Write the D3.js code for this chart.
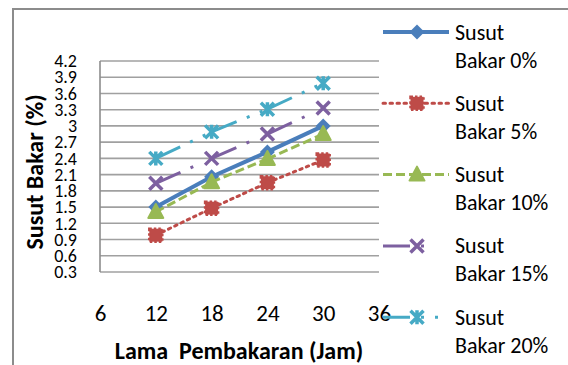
<!DOCTYPE html>
<html>
<head>
<meta charset="utf-8">
<script src="https://cdn.jsdelivr.net/npm/d3@7"></script>
<style>
  body { margin: 0; background: #fff; }
  svg text { font-family: Carlito, Calibri, Lato, sans-serif; fill: #000; }
</style>
</head>
<body>
<div id="chart"></div>
<script>
var svgWidth = 568;
var svgHeight = 365;

// data
var hours = [12, 18, 24, 30];
var xTicks = [6, 12, 18, 24, 30, 36];
var yTicks = [0.3, 0.6, 0.9, 1.2, 1.5, 1.8, 2.1, 2.4, 2.7, 3.0, 3.3, 3.6, 3.9, 4.2];
var seriesNames = ["Susut Bakar 0%", "Susut Bakar 5%", "Susut Bakar 10%", "Susut Bakar 15%", "Susut Bakar 20%"];
var susut0 = [1.5, 2.06, 2.52, 3.0];
var susut5 = [0.98, 1.48, 1.95, 2.37];
var susut10 = [1.41, 1.96, 2.39, 2.85];
var susut15 = [1.94, 2.4, 2.85, 3.33];
var susut20 = [2.4, 2.89, 3.31, 3.79];

var seriesValues = [susut0, susut5, susut10, susut15, susut20];

var styles = [
  { color: "#4A7EBB", width: 4, dash: null, marker: "diamond" },
  { color: "#BE4B48", width: 3, dash: "2.5,4.5", marker: "square" },
  { color: "#98B954", width: 3, dash: "9,4", marker: "triangle" },
  { color: "#7D60A0", width: 3, dash: "27,11,3,40", marker: "x" },
  { color: "#46AAC5", width: 3, dash: "27,11,3,11,3,30", marker: "star" }
];

var plot = { left: 100, right: 379, top: 61, bottom: 272 };

var svg = d3.select("#chart")
  .append("svg")
  .attr("width", svgWidth)
  .attr("height", svgHeight);

// outer chart border (runs off the right and bottom)
svg.append("rect")
  .attr("x", 13)
  .attr("y", 9)
  .attr("width", 700)
  .attr("height", 500)
  .attr("fill", "none")
  .attr("stroke", "#8c8c8c")
  .attr("stroke-width", 2);

var x = d3.scaleLinear().domain([6, 36]).range([plot.left, plot.right]);
var y = d3.scaleLinear().domain([0.3, 4.2]).range([plot.bottom, plot.top]);

// gridlines
svg.append("g")
  .selectAll("line")
  .data(yTicks)
  .enter()
  .append("line")
  .attr("x1", plot.left)
  .attr("x2", plot.right)
  .attr("y1", d => y(d))
  .attr("y2", d => y(d))
  .attr("stroke", "#a0a0a0")
  .attr("stroke-width", 1.6);

// left axis line
svg.append("line")
  .attr("x1", plot.left).attr("x2", plot.left)
  .attr("y1", plot.top).attr("y2", plot.bottom)
  .attr("stroke", "#8c8c8c")
  .attr("stroke-width", 1.6);

// y tick labels
var leftAxis = d3.axisLeft(y)
  .tickValues(yTicks)
  .tickSize(0)
  .tickPadding(3)
  .tickFormat(d => String(+d.toFixed(1)));

var yAxisG = svg.append("g")
  .attr("transform", "translate(80,0)")
  .call(leftAxis);
yAxisG.select(".domain").remove();
yAxisG.selectAll("text")
  .attr("font-size", "18px")
  .attr("font-family", null);

// x tick labels
var bottomAxis = d3.axisBottom(x)
  .tickValues(xTicks)
  .tickSize(0);

var xAxisG = svg.append("g")
  .attr("transform", `translate(0, ${plot.bottom})`)
  .call(bottomAxis);
xAxisG.select(".domain").remove();
xAxisG.selectAll("text")
  .attr("y", 41)
  .attr("dy", "0.35em")
  .attr("font-size", "23px")
  .attr("font-family", null);

// axis titles
svg.append("text")
  .attr("transform", "translate(34, 172) rotate(-90)")
  .attr("text-anchor", "middle")
  .attr("dominant-baseline", "central")
  .attr("font-weight", "bold")
  .attr("font-size", "24px")
  .text("Susut Bakar (%)");

svg.append("text")
  .attr("x", 239)
  .attr("y", 350)
  .attr("text-anchor", "middle")
  .attr("dominant-baseline", "central")
  .attr("font-weight", "bold")
  .attr("font-size", "24px")
  .attr("xml:space", "preserve")
  .text("Lama  Pembakaran (Jam)");

function drawMarker(g, type, color, cx, cy) {
  if (type === "diamond") {
    g.append("path")
      .attr("d", `M${cx},${cy - 7.5}L${cx + 7.5},${cy}L${cx},${cy + 7.5}L${cx - 7.5},${cy}Z`)
      .attr("fill", color);
  } else if (type === "square") {
    g.append("rect")
      .attr("x", cx - 6.5).attr("y", cy - 6.5)
      .attr("width", 13).attr("height", 13)
      .attr("fill", color)
      .attr("stroke", color)
      .attr("stroke-width", 2.5)
      .attr("stroke-dasharray", "2.5,2");
  } else if (type === "triangle") {
    g.append("path")
      .attr("d", `M${cx},${cy - 8}L${cx + 7.5},${cy + 6}L${cx - 7.5},${cy + 6}Z`)
      .attr("fill", color)
      .attr("stroke", color)
      .attr("stroke-width", 2)
      .attr("stroke-linejoin", "round");
  } else if (type === "x") {
    g.append("path")
      .attr("d", `M${cx - 6.5},${cy - 6.5}L${cx + 6.5},${cy + 6.5}M${cx + 6.5},${cy - 6.5}L${cx - 6.5},${cy + 6.5}`)
      .attr("stroke", color)
      .attr("stroke-width", 3.5);
  } else if (type === "star") {
    g.append("path")
      .attr("d", `M${cx - 6.5},${cy - 6.5}L${cx + 6.5},${cy + 6.5}M${cx + 6.5},${cy - 6.5}L${cx - 6.5},${cy + 6.5}M${cx},${cy - 7}L${cx},${cy + 7}`)
      .attr("stroke", color)
      .attr("stroke-width", 3.5);
  }
}

// series: Excel restarts the dash pattern on every segment, so draw each one
seriesValues.forEach(function(vals, i) {
  var st = styles[i];
  var g = svg.append("g");
  var segs = d3.pairs(hours.map((h, j) => [h, vals[j]]));
  g.selectAll("line")
    .data(segs)
    .enter()
    .append("line")
    .attr("x1", d => x(d[0][0]))
    .attr("y1", d => y(d[0][1]))
    .attr("x2", d => x(d[1][0]))
    .attr("y2", d => y(d[1][1]))
    .attr("stroke", st.color)
    .attr("stroke-width", st.width)
    .attr("stroke-linecap", st.marker === "square" ? "round" : "butt")
    .attr("stroke-dasharray", st.dash);
  hours.forEach(function(h, j) {
    drawMarker(g, st.marker, st.color, x(h), y(vals[j]));
  });
});

// legend
var legend = svg.append("g");
seriesNames.forEach(function(name, i) {
  var st = styles[i];
  var ly = 32 + i * 71.3;
  var item = legend.append("g");
  item.append("line")
    .attr("x1", 383).attr("x2", 449)
    .attr("y1", ly).attr("y2", ly)
    .attr("stroke", st.color)
    .attr("stroke-width", st.width)
    .attr("stroke-linecap", st.marker === "square" ? "round" : "butt")
    .attr("stroke-dasharray", st.dash);
  drawMarker(item, st.marker, st.color, 417, ly);
  var words = name.split(" ");
  item.append("text")
    .attr("x", 455)
    .attr("y", ly)
    .attr("dominant-baseline", "central")
    .attr("font-size", "22px")
    .text(words[0]);
  item.append("text")
    .attr("x", 455)
    .attr("y", ly + 28)
    .attr("dominant-baseline", "central")
    .attr("font-size", "22px")
    .text(words[1] + " " + words[2]);
});
</script>
</body>
</html>
